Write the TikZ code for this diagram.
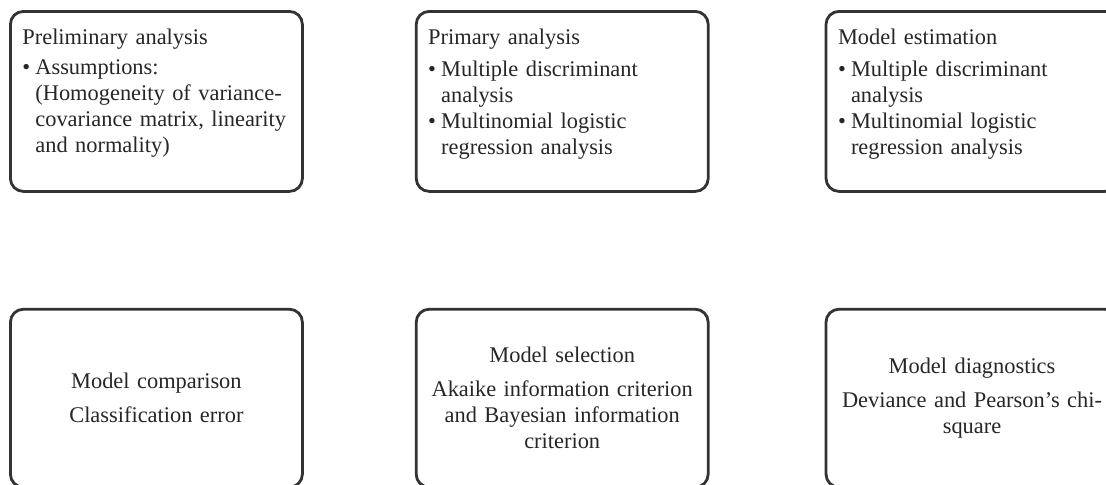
\documentclass[tikz,border=0pt]{standalone}
\usepackage{fontspec}
\setmainfont{Liberation Serif}
\usetikzlibrary{positioning}

\newcommand{\bulpt}{\makebox[6.5pt][l]{\textbullet}}
\newcommand{\contln}{\hspace*{6.5pt}}

\begin{document}
\begin{tikzpicture}[x=1pt, y=1pt]
    \tikzset{stage/.style={draw=black!80, line width=1.4pt, rounded corners=6.5pt,
                text=black!85, font=\fontsize{11.2pt}{13pt}\selectfont,
                inner xsep=5pt, inner ysep=6pt, text width=136pt}, %% common box
             topstage/.style={stage, align=left, text height=10.5pt, text depth=67.5pt},
             lowstage/.style={stage, align=center, minimum width=146pt, minimum height=89pt}}
    \useasboundingbox (0,0) rectangle (553,-242);

    % upper row
    \node[topstage, anchor=north west] (prelim) at (4.5,-5) {\hspace*{1pt}Preliminary analysis\\[2pt]
        \hspace*{1pt}\bulpt Assumptions:\\
        \hspace*{1pt}\contln(Homogeneity of variance-\\
        \hspace*{1pt}\contln covariance matrix, linearity\\
        \hspace*{1pt}\contln and normality)};
    \node[topstage, right=55.5pt of prelim] (primary) {\hspace*{1pt}Primary analysis\\[3pt]
        \hspace*{1pt}\bulpt Multiple discriminant\\
        \hspace*{1pt}\contln analysis\\
        \hspace*{1pt}\bulpt Multinomial logistic\\
        \hspace*{1pt}\contln regression analysis};
    \node[topstage, right=57.5pt of primary] (estim) {\hspace*{1pt}Model estimation\\[3pt]
        \hspace*{1pt}\bulpt Multiple discriminant\\
        \hspace*{1pt}\contln analysis\\
        \hspace*{1pt}\bulpt Multinomial logistic\\
        \hspace*{1pt}\contln regression analysis};

    % lower row
    \node[lowstage, below=57.5pt of prelim] (compar) {Model comparison\\[4pt]
        Classification error};
    \node[lowstage, below=57.5pt of primary] (select) {Model selection\\[4pt]
        Akaike information criterion\\ and Bayesian information\\ criterion};
    \node[lowstage, below=57.5pt of estim] (diagn) {Model diagnostics\\[4pt]
        Deviance and Pearson's chi-\\ square};
\end{tikzpicture}
\end{document}
